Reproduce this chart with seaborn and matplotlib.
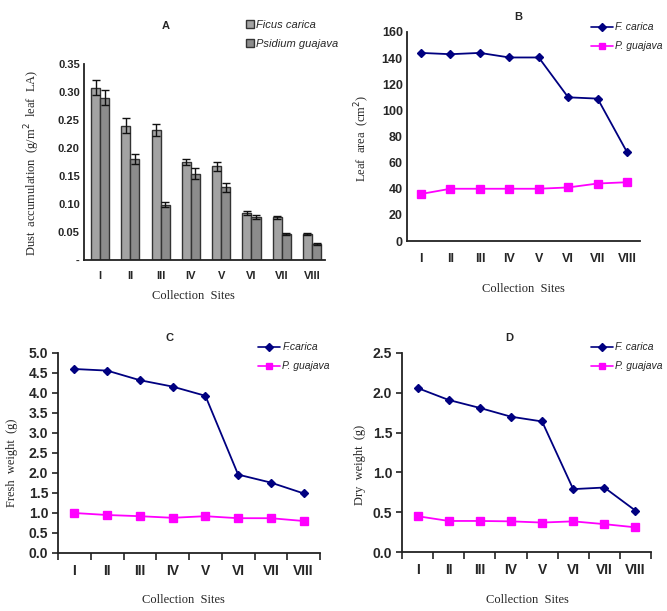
import numpy as np
import pandas as pd
import matplotlib
matplotlib.use("Agg")
import matplotlib.pyplot as plt
import seaborn as sns

sites = ["I", "II", "III", "IV", "V", "VI", "VII", "VIII"]

# Panel A: dust accumulation (g/m2 leaf LA)
dust_ficus = [0.308, 0.240, 0.232, 0.175, 0.167, 0.084, 0.076, 0.046]
dust_ficus_err = [0.013, 0.013, 0.011, 0.006, 0.008, 0.003, 0.003, 0.002]
dust_psidium = [0.290, 0.180, 0.099, 0.154, 0.130, 0.077, 0.046, 0.029]
dust_psidium_err = [0.013, 0.009, 0.005, 0.010, 0.008, 0.004, 0.002, 0.002]

# Panel B: leaf area (cm2)
leaf_fc = [144, 143, 144, 140.5, 140.5, 110, 109, 68]
leaf_pg = [36, 40, 40, 40, 40, 41, 44, 45]

# Panel C: fresh weight (g)
fresh_fc = [4.60, 4.56, 4.32, 4.16, 3.93, 1.96, 1.76, 1.49]
fresh_pg = [1.00, 0.95, 0.92, 0.88, 0.92, 0.87, 0.87, 0.80]

# Panel D: dry weight (g)
dry_fc = [2.06, 1.91, 1.81, 1.70, 1.64, 0.79, 0.81, 0.52]
dry_pg = [0.45, 0.39, 0.39, 0.385, 0.37, 0.385, 0.35, 0.31]

sns.set_theme(style="white")
plt.rcParams["font.family"] = ["Liberation Sans", "DejaVu Sans"]

W, H = 667, 611
fig = plt.figure(figsize=(W / 100, H / 100), dpi=100)


def ax_px(l, r, t, b):
    return fig.add_axes([l / W, 1 - b / H, (r - l) / W, (b - t) / H])


def fx(px):
    return px / W


def fy(py):
    return 1 - py / H


SERIF = ["Liberation Serif", "DejaVu Serif"]
NAVY = "#000080"
MAG = "#ff00ff"


def style_axes(ax, ticklen_y=0, fs=8):
    sns.despine(ax=ax)
    for s in ("left", "bottom"):
        ax.spines[s].set_color("#222222")
        ax.spines[s].set_linewidth(1.3)
    ax.tick_params(axis="y", length=ticklen_y, width=1.2, color="#222222",
                   direction="out", labelsize=fs, pad=3, left=ticklen_y > 0)
    ax.tick_params(axis="x", length=0, labelsize=fs, pad=3, bottom=False)
    for lab in ax.get_xticklabels() + ax.get_yticklabels():
        lab.set_fontweight("bold")
    ax.grid(False)


# ---------------- Panel A ----------------
axA = ax_px(84, 325, 64, 260)
dfA = pd.DataFrame({
    "site": sites * 2,
    "value": dust_ficus + dust_psidium,
    "species": ["Ficus carica"] * 8 + ["Psidium guajava"] * 8,
})
sns.barplot(data=dfA, x="site", y="value", hue="species", order=sites,
            palette=["#a3a3a3", "#8c8c8c"], edgecolor="#333333", linewidth=1.0,
            width=0.6, gap=0, errorbar=None, saturation=1, ax=axA)
for cont, errs in zip(axA.containers, [dust_ficus_err, dust_psidium_err]):
    xs = [p.get_x() + p.get_width() / 2 for p in cont.patches]
    hs = [p.get_height() for p in cont.patches]
    axA.errorbar(xs, hs, yerr=errs, fmt="none", ecolor="#111111",
                 elinewidth=1.0, capsize=3, capthick=1.0)
axA.set_ylim(0, 0.35)
axA.set_xlim(-0.53, 7.43)
axA.set_yticks(np.arange(0, 0.351, 0.05))
axA.set_yticklabels(["-", "0.05", "0.10", "0.15", "0.20", "0.25", "0.30", "0.35"])
style_axes(axA, fs=8)
axA.tick_params(axis="x", pad=8)
sns.move_legend(axA, "upper left", bbox_to_anchor=(fx(236), fy(10)),
                bbox_transform=fig.transFigure, title=None, frameon=False,
                handlelength=0.7, handleheight=0.7, handletextpad=0.2,
                labelspacing=0.8, prop={"style": "italic", "size": 8})
axA.set_xlabel("Collection  Sites", family=SERIF, fontsize=9)
axA.xaxis.set_label_coords(fx(193), fy(296), transform=fig.transFigure)
axA.xaxis.label.set_va("center")
axA.set_ylabel("Dust  accumulation  (g/m$^2$  leaf  LA)", family=SERIF, fontsize=9)
axA.yaxis.set_label_coords(fx(32), fy(163), transform=fig.transFigure)
axA.yaxis.label.set_va("center")
fig.text(fx(166), fy(26), "A", ha="center", va="center", fontsize=8, fontweight="bold")


def line_panel(ax, fc, pg, names, ylim, yticks, fmt, fs, xlim, ticks_out,
               leg_xy, title, title_xy, ylabel, ylab_xy, xlab_xy, xpad):
    df = pd.DataFrame({
        "site": sites * 2,
        "value": list(fc) + list(pg),
        "species": [names[0]] * 8 + [names[1]] * 8,
    })
    sns.pointplot(data=df, x="site", y="value", hue="species", order=sites,
                  palette=[NAVY, MAG], markers=["D", "s"], linestyles=["-", "-"],
                  errorbar=None, markersize=5, linewidth=1.3, ax=ax)
    for line in ax.lines:
        if matplotlib.colors.to_hex(line.get_color()) == MAG:
            line.set_markersize(6.0)
        else:
            line.set_markersize(4.3)
    ax.set_ylim(*ylim)
    ax.set_xlim(*xlim)
    ax.set_yticks(yticks)
    ax.set_yticklabels([fmt.format(v) for v in yticks])
    style_axes(ax, ticklen_y=4 if ticks_out else 0, fs=fs)
    ax.tick_params(axis="x", pad=xpad)
    if ticks_out:
        ax.set_xticks(np.arange(-0.5, 7.6, 1.0), minor=True)
        ax.tick_params(axis="x", which="minor", length=5, width=1.2,
                       color="#222222", direction="out", bottom=True)
    sns.move_legend(ax, "upper left", bbox_to_anchor=leg_xy,
                    bbox_transform=fig.transFigure, title=None, frameon=False,
                    handlelength=2.1, handletextpad=0.2, labelspacing=0.85,
                    prop={"style": "italic", "size": 7.5})
    leg = ax.get_legend()
    for h in leg.legend_handles:
        if matplotlib.colors.to_hex(h.get_color()) == MAG:
            h.set_markersize(5.0)
        else:
            h.set_markersize(3.8)
        h.set_linewidth(1.2)
    ax.set_xlabel("Collection  Sites", family=SERIF, fontsize=9)
    ax.xaxis.set_label_coords(*xlab_xy, transform=fig.transFigure)
    ax.xaxis.label.set_va("center")
    ax.set_ylabel(ylabel, family=SERIF, fontsize=9)
    ax.yaxis.set_label_coords(*ylab_xy, transform=fig.transFigure)
    ax.yaxis.label.set_va("center")
    fig.text(title_xy[0], title_xy[1], title, ha="center", va="center",
             fontsize=8, fontweight="bold")


# ---------------- Panel B ----------------
axB = ax_px(407, 640, 32, 241)
line_panel(axB, leaf_fc, leaf_pg, ["F. carica", "P. guajava"], (0, 160),
           np.arange(0, 161, 20), "{:.0f}", 9, (-0.476, 7.44), False,
           (fx(582), fy(13)), "B", (fx(518), fy(17)),
           "Leaf  area  (cm$^2$)", (fx(362), fy(138)), (fx(523), fy(289)), 9)

# ---------------- Panel C ----------------
axC = ax_px(58, 320, 353, 553)
line_panel(axC, fresh_fc, fresh_pg, ["F.carica", "P. guajava"], (0, 5.0),
           np.arange(0, 5.01, 0.5), "{:.1f}", 10, (-0.5, 7.5), True,
           (fx(249), fy(333)), "C", (fx(170), fy(338)),
           "Fresh  weight  (g)", (fx(12), fy(463)), (fx(183), fy(600)), 8)

# ---------------- Panel D ----------------
axD = ax_px(402, 651, 353, 552)
line_panel(axD, dry_fc, dry_pg, ["F. carica", "P. guajava"], (0, 2.5),
           np.arange(0, 2.51, 0.5), "{:.1f}", 10, (-0.5, 7.5), True,
           (fx(582), fy(333)), "D", (fx(509), fy(338)),
           "Dry  weight  (g)", (fx(360), fy(465)), (fx(527), fy(600)), 8)

fig.savefig("out.png", dpi=100, facecolor="white")
